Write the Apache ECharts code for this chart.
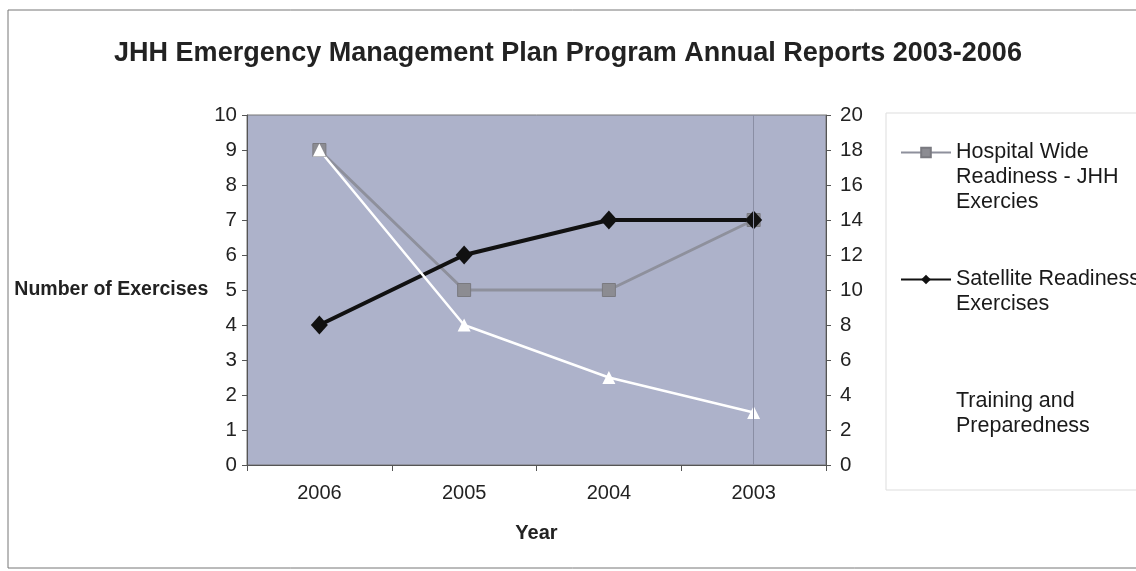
<!DOCTYPE html>
<html>
<head>
<meta charset="utf-8">
<script src="https://cdn.jsdelivr.net/npm/echarts@6/dist/echarts.min.js"></script>
<style>html,body{margin:0;padding:0;background:#fff}#c{width:1136px;height:571px}</style>
</head>
<body>
<div id="c"></div>
<script>
const years = ['2006', '2005', '2004', '2003'];
const hospitalWide = [9, 5, 5, 7];
const satellite = [4, 6, 7, 7];
const training = [18, 8, 5, 3];
const leftTicks = { min: 0, max: 10, interval: 1 };
const rightTicks = { min: 0, max: 20, interval: 2 };

const FONT = 'Liberation Sans, Arial, sans-serif';
const chart = echarts.init(document.getElementById('c'));
const legendText = { fontFamily: FONT, fontSize: 21.5, color: '#1a1a1a', lineHeight: 25 };
chart.setOption({
  backgroundColor: '#fff',
  animation: false,
  title: {
    text: 'JHH Emergency Management Plan Program Annual Reports 2003-2006',
    left: 'center', top: 35,
    textStyle: { fontFamily: FONT, fontSize: 27, fontWeight: 'bold', color: '#222' }
  },
  graphic: [
    { type: 'rect', z: -1, shape: { x: 8, y: 10, width: 1140, height: 558 }, style: { fill: 'none', stroke: '#777', lineWidth: 1 } },
    { type: 'rect', z: -1, shape: { x: 886, y: 113, width: 260, height: 377 }, style: { fill: '#fff', stroke: '#ddd', lineWidth: 1 } }
  ],
  legend: [
    { orient: 'vertical', left: 900, top: 90, padding: 0, itemWidth: 50, itemHeight: 12, textStyle: legendText,
      data: ['Hospital Wide Readiness - JHH Exercies'],
      formatter: () => '\n\nHospital Wide\nReadiness - JHH\nExercies' },
    { orient: 'vertical', left: 900, top: 242, padding: 0, itemWidth: 50, itemHeight: 12, textStyle: legendText,
      data: ['Satellite Readiness Exercises'],
      formatter: () => '\nSatellite Readiness\nExercises' },
    { orient: 'vertical', left: 900, top: 364, padding: 0, itemWidth: 50, itemHeight: 12, textStyle: legendText,
      data: ['Training and Preparedness'],
      formatter: () => '\nTraining and\nPreparedness' }
  ],
  grid: { left: 247, right: 310, top: 115, bottom: 106, show: true, backgroundColor: '#adb2ca', borderColor: '#777', borderWidth: 1 },
  xAxis: {
    type: 'category', data: years, boundaryGap: true,
    name: 'Year', nameLocation: 'middle', nameGap: 58,
    nameTextStyle: { fontFamily: FONT, fontSize: 20, fontWeight: 'bold', color: '#222' },
    axisLine: { lineStyle: { color: '#555' } },
    axisTick: { show: true, length: 6, lineStyle: { color: '#555' } },
    axisLabel: { fontFamily: FONT, fontSize: 20, color: '#222', margin: 18 }
  },
  yAxis: [
    { type: 'value', min: leftTicks.min, max: leftTicks.max, interval: leftTicks.interval, position: 'left',
      name: 'Number of Exercises', nameLocation: 'middle', nameRotate: 0, nameGap: 37,
      nameTextStyle: { fontFamily: FONT, fontSize: 19.5, fontWeight: 'bold', color: '#222', padding: [0, 0, 24, 0] },
      axisLine: { show: true, lineStyle: { color: '#555' } },
      axisTick: { show: true, length: 5, lineStyle: { color: '#555' } },
      axisLabel: { fontFamily: FONT, fontSize: 20.5, color: '#222', margin: 10 },
      splitLine: { show: false } },
    { type: 'value', min: rightTicks.min, max: rightTicks.max, interval: rightTicks.interval, position: 'right',
      axisLine: { show: true, lineStyle: { color: '#555' } },
      axisTick: { show: true, length: 5, lineStyle: { color: '#555' } },
      axisLabel: { fontFamily: FONT, fontSize: 20.5, color: '#222', margin: 14 },
      splitLine: { show: false } }
  ],
  series: [
    { name: 'Hospital Wide Readiness - JHH Exercies', type: 'line', yAxisIndex: 0, data: hospitalWide,
      symbol: 'rect', symbolSize: 13, lineStyle: { color: '#8e909c', width: 3 },
      itemStyle: { color: '#8c8c92', borderColor: '#7a7a80', borderWidth: 1 },
      markLine: { silent: true, symbol: 'none', label: { show: false },
        lineStyle: { color: '#8a8ea4', width: 1, type: 'solid' }, data: [{ xAxis: '2003' }] } },
    { name: 'Satellite Readiness Exercises', type: 'line', yAxisIndex: 0, data: satellite,
      symbol: 'diamond', symbolSize: [17, 19], lineStyle: { color: '#111', width: 4 },
      itemStyle: { color: '#111' } },
    { name: 'Training and Preparedness', type: 'line', yAxisIndex: 1, data: training,
      symbol: 'triangle', symbolSize: 13, lineStyle: { color: '#fff', width: 2.5 },
      itemStyle: { color: '#fff' } }
  ]
});
</script>
</body>
</html>
